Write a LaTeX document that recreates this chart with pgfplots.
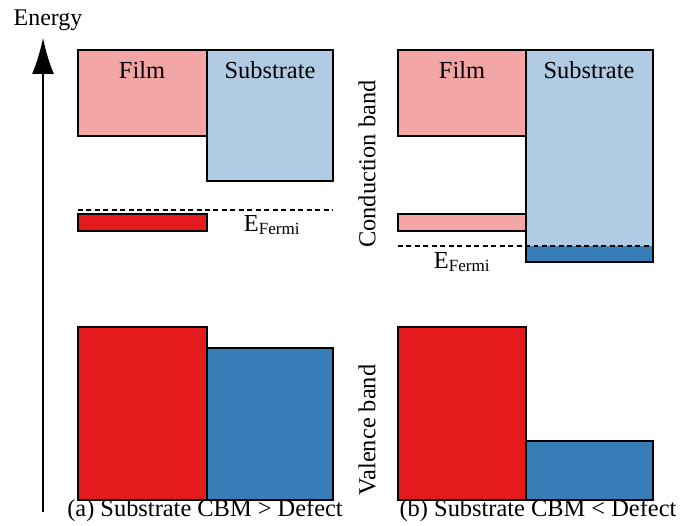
\documentclass[border=0pt]{standalone}
\usepackage{pgfplots}
\pgfplotsset{compat=1.18}
\usepackage{fontspec}
\setmainfont{Liberation Serif}
\usetikzlibrary{arrows.meta}
\definecolor{pinkc}{RGB}{244,166,166}
\definecolor{lblue}{RGB}{176,203,227}
\definecolor{redc}{RGB}{228,26,28}
\definecolor{bluec}{RGB}{55,126,184}
\begin{document}
\begin{tikzpicture}
\begin{axis}[
  scale only axis, width=682bp, height=523bp,
  xmin=0, xmax=682, ymin=0, ymax=523, y dir=reverse,
  axis lines=none, clip=false, no markers,
  every axis plot/.append style={line width=1.4pt},
]
\addplot[draw=none] coordinates {(0,0) (682,523)};
% Panel (a)
\addplot[fill=pinkc, draw=black] coordinates {(78,50) (207,50) (207,136) (78,136)} -- cycle;
\addplot[fill=lblue, draw=black] coordinates {(207,50) (333,50) (333,181) (207,181)} -- cycle;
\addplot[fill=redc, draw=black] coordinates {(78,214) (207,214) (207,231) (78,231)} -- cycle;
\addplot[black, line width=1.1pt, dash pattern=on 5pt off 3.5pt] coordinates {(78,210) (333,210)};
\addplot[fill=redc, draw=black] coordinates {(78,327) (207,327) (207,500) (78,500)} -- cycle;
\addplot[fill=bluec, draw=black] coordinates {(207,348) (333,348) (333,500) (207,500)} -- cycle;
% Panel (b)
\addplot[fill=pinkc, draw=black] coordinates {(398,50) (526,50) (526,136) (398,136)} -- cycle;
\addplot[fill=pinkc, draw=black] coordinates {(398,214) (526,214) (526,231) (398,231)} -- cycle;
\addplot[fill=lblue, draw=none] coordinates {(526,50) (653,50) (653,246) (526,246)} -- cycle;
\addplot[fill=bluec, draw=none] coordinates {(526,246) (653,246) (653,262) (526,262)} -- cycle;
\addplot[draw=black] coordinates {(526,50) (653,50) (653,262) (526,262)} -- cycle;
\addplot[black, line width=1.1pt, dash pattern=on 5pt off 3.5pt] coordinates {(398,246) (653,246)};
\addplot[fill=redc, draw=black] coordinates {(398,327) (526,327) (526,500) (398,500)} -- cycle;
\addplot[fill=bluec, draw=black] coordinates {(526,441) (653,441) (653,500) (526,500)} -- cycle;
% Energy arrow
\addplot[black, line width=1.6pt, -{Latex[length=36bp,width=22bp]}] coordinates {(43,512) (43,38)};
% texts
\node[font=\fontsize{24}{27}\selectfont] at (axis cs:48,20) {Energy};
\node[font=\fontsize{24.5}{27}\selectfont] at (axis cs:142,70) {Film};
\node[font=\fontsize{24.5}{27}\selectfont] at (axis cs:270,70) {Substrate};
\node[font=\fontsize{24.5}{27}\selectfont] at (axis cs:462,70) {Film};
\node[font=\fontsize{24.5}{27}\selectfont] at (axis cs:589,70) {Substrate};
\node[font=\fontsize{24.5}{27}\selectfont] at (axis cs:272,225) {E\textsubscript{Fermi}};
\node[font=\fontsize{24.5}{27}\selectfont] at (axis cs:462,262) {E\textsubscript{Fermi}};
\node[font=\fontsize{24.5}{27}\selectfont, rotate=90] at (axis cs:367,164) {Conduction band};
\node[font=\fontsize{24.5}{27}\selectfont, rotate=90] at (axis cs:367,430) {Valence band};
\node[font=\fontsize{24.5}{27}\selectfont] at (axis cs:205,511) {(a) Substrate CBM > Defect};
\node[font=\fontsize{24.5}{27}\selectfont] at (axis cs:538,511) {(b) Substrate CBM < Defect};
\end{axis}
\end{tikzpicture}
\end{document}
